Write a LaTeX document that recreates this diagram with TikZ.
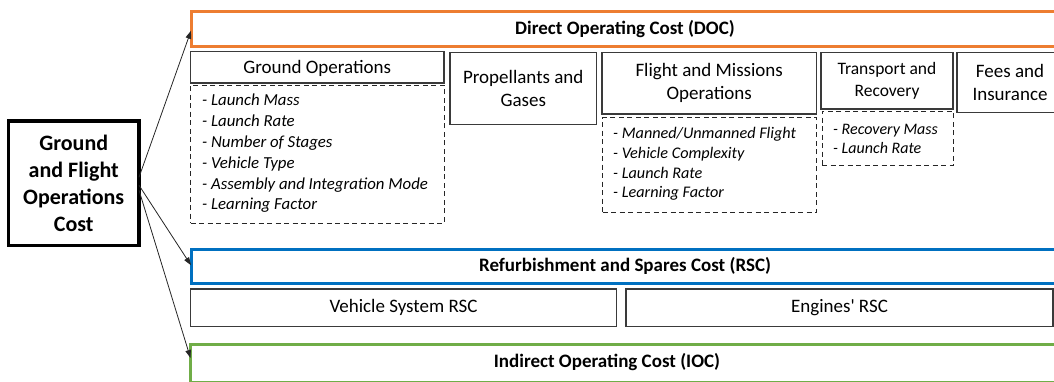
\documentclass[tikz,border=0pt]{standalone}
\usepackage{fontspec}
\setmainfont{Carlito}
\usetikzlibrary{arrows.meta,calc}
\definecolor{docorange}{HTML}{ED7D31}
\definecolor{rscblue}{HTML}{0070C0}
\definecolor{iocgreen}{HTML}{70AD47}
\definecolor{boxgray}{HTML}{3A3A3A}
\begin{document}
\begin{tikzpicture}[x=1pt,y=-1pt,
  cat/.style={draw=#1, line width=3pt, inner sep=0pt, outer sep=0pt,
    font=\fontsize{19}{23}\selectfont\bfseries},
  hdr/.style={draw=boxgray, line width=1.3pt, inner sep=0pt, outer sep=0pt,
    align=center, font=\fontsize{19}{23}\selectfont},
  dbox/.style={draw=black!85, line width=0.9pt, dash pattern=on 5pt off 3.5pt,
    inner sep=0pt, outer sep=0pt},
  items/.style={anchor=west, inner sep=0pt, align=left, font=#1\itshape},
  link/.style={draw=black!85, line width=0.8pt, -{Triangle[length=8pt,width=5.5pt]}}
]
\clip (0,0) rectangle (1054,381);

% root box
\node[draw=black, line width=3.5pt, inner sep=0pt, outer sep=0pt,
  minimum width=130.5pt, minimum height=124.5pt, align=center,
  font=\fontsize{22}{27}\selectfont\bfseries] (main) at (73.75,183.25)
  {Ground\\and Flight\\Operations\\Cost};

% direct operating cost
\node[cat=docorange, minimum width=868pt, minimum height=34.5pt] (doc) at (625,28.75)
  {Direct Operating Cost (DOC)};

\node[hdr, minimum width=253.5pt, minimum height=31.5pt, text depth=0pt,
  text height=12pt] (go) at (317.25,67.25)
  {Ground Operations};
\node[dbox, minimum width=253.5pt, minimum height=138pt] (godash) at (317.25,154) {};
\node[items={\fontsize{16.8}{20.8}\selectfont}] (golist) at (202,153.5)
  {- Launch Mass\\- Launch Rate\\- Number of Stages\\- Vehicle Type\\- Assembly and Integration Mode\\- Learning Factor};

\node[hdr, minimum width=146.5pt, minimum height=72pt] (prop) at (523.25,88.5)
  {Propellants and\\Gases};

\node[hdr, minimum width=214.5pt, minimum height=61.5pt] (fmo) at (709.25,83.25)
  {Flight and Missions\\Operations};
\node[dbox, minimum width=214pt, minimum height=94.5pt] (fmodash) at (709.5,164.75) {};
\node[items={\fontsize{16.2}{19.6}\selectfont}] (fmolist) at (613,164)
  {- Manned/Unmanned Flight\\- Vehicle Complexity\\- Launch Rate\\- Learning Factor};

\node[hdr, minimum width=132pt, minimum height=56.5pt,
  font=\fontsize{17.5}{22}\selectfont] (tr) at (887,80.75)
  {Transport and\\Recovery};
\node[dbox, minimum width=131pt, minimum height=54.5pt] (trdash) at (887.5,138.25) {};
\node[items={\fontsize{16}{19}\selectfont}] (trlist) at (833,138.5)
  {- Recovery Mass\\- Launch Rate};

\node[hdr, minimum width=106pt, minimum height=60pt] (fees) at (1010,82.5)
  {Fees and\\Insurance};

% refurbishment and spares cost
\node[cat=rscblue, minimum width=868pt, minimum height=33.5pt] (rsc) at (625,266.25)
  {Refurbishment and Spares Cost (RSC)};
\node[hdr, minimum width=426pt, minimum height=37.5pt] (vs) at (403.5,307.75)
  {Vehicle System RSC};
\node[hdr, minimum width=427pt, minimum height=37.5pt] (eng) at (839.5,307.75)
  {Engines\textquotesingle{} RSC};

% indirect operating cost
\node[cat=iocgreen, minimum width=868.5pt, minimum height=38pt] (ioc) at (624.75,363) {};
\node[inner sep=0pt, font=\fontsize{19}{23}\selectfont\bfseries] (ioctext) at (607,362)
  {Indirect Operating Cost (IOC)};

% connectors
\draw[link] ($(main.east)+(0,-6)$) -- ([yshift=-2pt]doc.west);
\draw[link] ($(main.east)+(0,2)$) -- ([yshift=1pt]rsc.west);
\draw[link] ($(main.east)+(0,7)$) -- ([yshift=5pt]ioc.west);
\end{tikzpicture}
\end{document}
